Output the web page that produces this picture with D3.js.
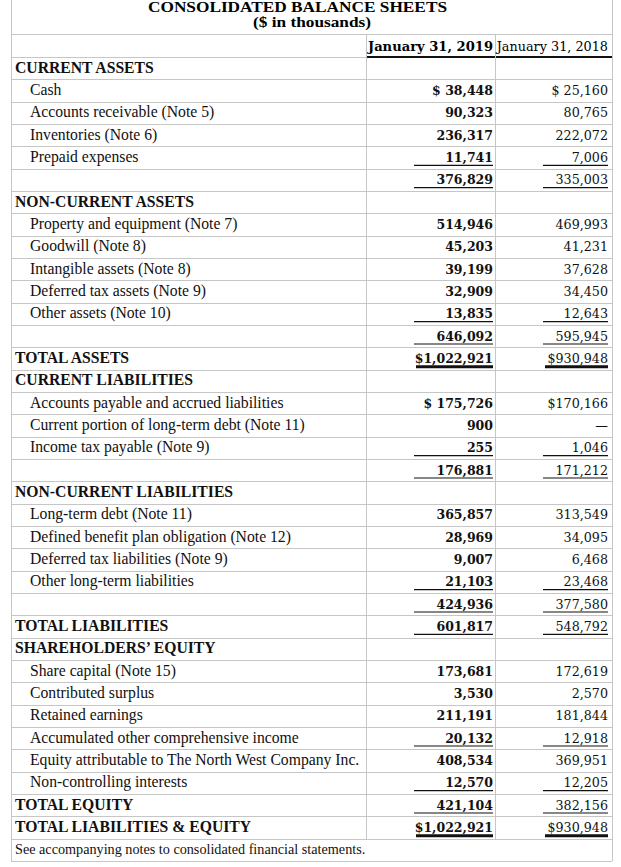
<!DOCTYPE html>
<html><head><meta charset="utf-8">
<script src="https://cdn.jsdelivr.net/npm/d3@7"></script>
<style>html,body{margin:0;padding:0;background:#fff;}</style>
</head><body>
<script>
const titleLines = ["CONSOLIDATED BALANCE SHEETS", "($ in thousands)"];
const columnHeaders = ["January 31, 2019", "January 31, 2018"];
const labels = [
 "CURRENT ASSETS","Cash","Accounts receivable (Note 5)","Inventories (Note 6)","Prepaid expenses","",
 "NON-CURRENT ASSETS","Property and equipment (Note 7)","Goodwill (Note 8)","Intangible assets (Note 8)","Deferred tax assets (Note 9)","Other assets (Note 10)","",
 "TOTAL ASSETS","CURRENT LIABILITIES","Accounts payable and accrued liabilities","Current portion of long-term debt (Note 11)","Income tax payable (Note 9)","",
 "NON-CURRENT LIABILITIES","Long-term debt (Note 11)","Defined benefit plan obligation (Note 12)","Deferred tax liabilities (Note 9)","Other long-term liabilities","",
 "TOTAL LIABILITIES","SHAREHOLDERS\u2019 EQUITY","Share capital (Note 15)","Contributed surplus","Retained earnings","Accumulated other comprehensive income","Equity attributable to The North West Company Inc.","Non-controlling interests",
 "TOTAL EQUITY","TOTAL LIABILITIES & EQUITY"
];
// row kind: h = section heading, i = line item, s = subtotal, t = total
const kinds = ["h","i","i","i","i","s","h","i","i","i","i","i","s","t","h","i","i","i","s","h","i","i","i","i","s","t","h","i","i","i","i","i","i","t","t"];
const values2019 = [null,38448,90323,236317,11741,376829,null,514946,45203,39199,32909,13835,646092,1022921,null,175726,900,255,176881,null,365857,28969,9007,21103,424936,601817,null,173681,3530,211191,20132,408534,12570,421104,1022921];
const values2018 = [null,25160,80765,222072,7006,335003,null,469993,41231,37628,34450,12643,595945,930948,null,170166,null,1046,171212,null,313549,34095,6468,23468,377580,548792,null,172619,2570,181844,12918,369951,12205,382156,930948];
const prefix2019 = {1:"$ ",13:"$",15:"$ ",34:"$"};
const prefix2018 = {1:"$ ",13:"$",15:"$",34:"$"};
// accounting rules under the figures: 1 = single rule, 2 = double (heavy) rule
const rules = {4:1,5:1,11:1,12:1,13:2,17:1,18:1,23:1,24:1,25:1,30:1,32:1,33:1,34:2};
const footnote = "See accompanying notes to consolidated financial statements.";

const W = 621, H = 867;
const svg = d3.select("body").append("svg").attr("width", W).attr("height", H);

const xL = 11, xC1 = 366, xC2 = 495, xR = 612;
const headerTop = 34.5, headerBottom = 57;
const nRows = labels.length + 1;
const y = d3.scaleBand().domain(d3.range(nRows)).range([57, 861]).paddingInner(0).paddingOuter(0);
const grid = "#c6c6c6";
const serif = "'Liberation Serif','Times New Roman',serif";
const numFont = "'DejaVu Serif',Georgia,serif";
const fmt = d3.format(",");

// title
svg.append("text").attr("x", 297.5).attr("y", 12).attr("text-anchor","middle")
  .attr("font-family", serif).attr("font-weight","bold").attr("font-size", 15)
  .attr("textLength", 299).attr("lengthAdjust","spacingAndGlyphs").text(titleLines[0]);
svg.append("text").attr("x", 312).attr("y", 27).attr("text-anchor","middle")
  .attr("font-family", serif).attr("font-weight","bold").attr("font-size", 15)
  .attr("textLength", 118).attr("lengthAdjust","spacingAndGlyphs").text(titleLines[1]);

const g = svg.append("g").attr("shape-rendering","crispEdges");
g.append("line").attr("x1", xL).attr("x2", xR).attr("y1", headerTop).attr("y2", headerTop).attr("stroke", grid);
g.append("line").attr("x1", xL).attr("x2", xC1).attr("y1", headerBottom).attr("y2", headerBottom).attr("stroke", grid);
g.append("line").attr("x1", xC1).attr("x2", xR).attr("y1", headerBottom).attr("y2", headerBottom).attr("stroke", "#111").attr("stroke-width", 1.5);
g.selectAll("line.row").data(d3.range(1, nRows + 1)).join("line").attr("class","row")
  .attr("x1", xL).attr("x2", xR)
  .attr("y1", i => Math.round(i < nRows ? y(i) : 861) + 0.5).attr("y2", i => Math.round(i < nRows ? y(i) : 861) + 0.5)
  .attr("stroke", grid);
g.append("line").attr("x1", xL).attr("x2", xL).attr("y1", 0).attr("y2", 861).attr("stroke", grid);
g.append("line").attr("x1", xR).attr("x2", xR).attr("y1", 0).attr("y2", 861).attr("stroke", grid);
[xC1, xC2].forEach(x => g.append("line").attr("x1", x).attr("x2", x).attr("y1", headerTop).attr("y2", y(nRows - 1)).attr("stroke", grid));

// column headers
svg.append("text").attr("x", 493).attr("y", 51).attr("text-anchor","end")
  .attr("font-family", numFont).attr("font-weight","bold").attr("font-size", 13.1).text(columnHeaders[0]);
svg.append("text").attr("x", 608).attr("y", 51).attr("text-anchor","end")
  .attr("font-family", numFont).attr("font-size", 12.8).text(columnHeaders[1]);

const rows = svg.append("g").selectAll("g").data(labels.map((l, i) => ({l, i}))).join("g")
  .attr("transform", d => `translate(0,${y(d.i)})`);
const base = 15.5;
rows.append("text")
  .attr("x", d => kinds[d.i] === "i" ? 30 : 15).attr("y", base)
  .attr("font-family", serif).attr("font-size", 15.7)
  .attr("font-weight", d => (kinds[d.i] === "h" || kinds[d.i] === "t") ? "bold" : "normal")
  .attr("fill", "#111")
  .text(d => d.l);

rows.filter(d => kinds[d.i] !== "h").append("text")
  .attr("x", 493).attr("y", base).attr("text-anchor","end")
  .attr("font-family", numFont).attr("font-weight","bold").attr("font-size", 12.5).attr("fill","#111")
  .text(d => (prefix2019[d.i] || "") + fmt(values2019[d.i]));
rows.filter(d => kinds[d.i] !== "h").append("text")
  .attr("x", 608).attr("y", base).attr("text-anchor","end")
  .attr("font-family", numFont).attr("font-size", 12.7).attr("fill","#111")
  .text(d => values2018[d.i] == null ? "\u2014" : (prefix2018[d.i] || "") + fmt(values2018[d.i]));

// accounting rules
const ruled = rows.filter(d => rules[d.i]);
ruled.append("line").attr("x1", d => rules[d.i] === 2 ? 416 : 414).attr("x2", 493)
  .attr("y1", d => rules[d.i] === 2 ? 19.5 : 19).attr("y2", d => rules[d.i] === 2 ? 19.5 : 19)
  .attr("stroke", "#111").attr("stroke-width", d => rules[d.i] === 2 ? 3 : 1.2);
ruled.append("line").attr("x1", d => rules[d.i] === 2 ? 545 : 543).attr("x2", 608)
  .attr("y1", d => rules[d.i] === 2 ? 19.5 : 19).attr("y2", d => rules[d.i] === 2 ? 19.5 : 19)
  .attr("stroke", "#111").attr("stroke-width", d => rules[d.i] === 2 ? 3 : 1.2);

// footnote
svg.append("text").attr("x", 15).attr("y", y(nRows - 1) + base)
  .attr("font-family", serif).attr("font-size", 14.2).attr("fill","#111").text(footnote);
</script>
</body></html>
